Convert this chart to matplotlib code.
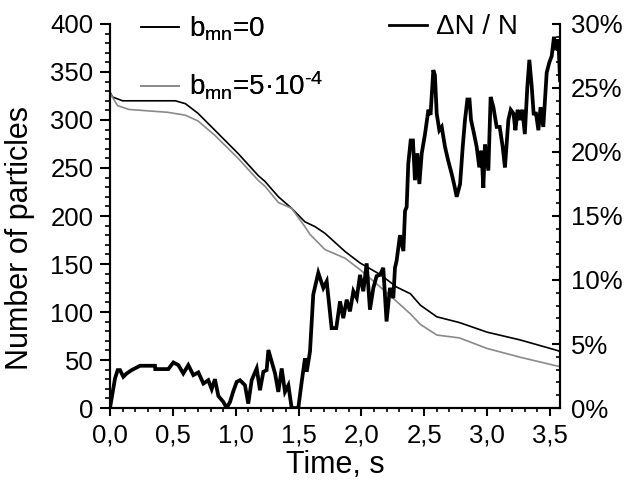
import matplotlib
matplotlib.use("Agg")
import matplotlib.pyplot as plt
from matplotlib.ticker import MultipleLocator

plt.rcParams['font.family'] = ['Liberation Sans', 'DejaVu Sans']
plt.rcParams['mathtext.fontset'] = 'custom'
plt.rcParams['mathtext.rm'] = 'Liberation Sans'
plt.rcParams['mathtext.it'] = 'Liberation Sans'

# --- data -------------------------------------------------------------
t_b0 = [0.0, 0.02, 0.1, 0.52, 0.6, 0.7, 0.86, 1.02, 1.18, 1.233, 1.34, 1.445,
        1.55, 1.63, 1.71, 1.87, 1.99, 2.15, 2.28, 2.39, 2.47, 2.6, 2.78, 3.0,
        3.26, 3.53, 3.58]
n_b0 = [329, 324, 320, 320, 317, 307, 286, 265, 242, 236, 220, 208,
        194, 189, 182, 163, 151, 139, 126, 119, 107, 95, 89, 79,
        71, 61, 59]

t_b5 = [0.0, 0.06, 0.15, 0.46, 0.6, 0.7, 0.835, 1.02, 1.18, 1.233, 1.34, 1.445,
        1.55, 1.59, 1.71, 1.80, 1.87, 1.99, 2.15, 2.28, 2.39, 2.47, 2.6, 2.78,
        3.0, 3.26, 3.58]
n_b5 = [328, 315, 311, 308, 305, 299, 284, 260, 237, 231, 214, 208,
        189, 181, 165, 160, 156, 144, 126, 111, 98, 87, 76, 73,
        62, 53, 43]

t_dn = [0.0, 0.04, 0.061, 0.08, 0.106, 0.133, 0.172, 0.239, 0.358, 0.36, 0.464,
        0.504, 0.544, 0.583, 0.623, 0.663, 0.703, 0.743, 0.782, 0.809, 0.835,
        0.862, 0.902, 0.928, 0.955, 0.981, 1.008, 1.034, 1.074, 1.1, 1.127,
        1.167, 1.193, 1.22, 1.246, 1.26, 1.286, 1.313, 1.339, 1.366, 1.392,
        1.419, 1.445, 1.498, 1.525, 1.551, 1.565, 1.591, 1.617, 1.657, 1.697,
        1.724, 1.763, 1.80, 1.83, 1.856, 1.883, 1.909, 1.936, 1.963, 1.989,
        2.015, 2.042, 2.068, 2.095, 2.121, 2.148, 2.174, 2.2, 2.227, 2.254,
        2.267, 2.28, 2.307, 2.334, 2.347, 2.36, 2.373, 2.392, 2.41, 2.426,
        2.445, 2.461, 2.48, 2.506, 2.533, 2.55, 2.572, 2.585, 2.599, 2.62,
        2.639, 2.665, 2.691, 2.718, 2.737, 2.758, 2.785, 2.806, 2.824, 2.843,
        2.86, 2.872, 2.89, 2.917, 2.938, 2.955, 2.97, 2.983, 3.01, 3.028, 3.05,
        3.076, 3.10, 3.124, 3.142, 3.169, 3.188, 3.21, 3.225, 3.243, 3.26,
        3.28, 3.30, 3.32, 3.336, 3.355, 3.37, 3.389, 3.408, 3.425, 3.447,
        3.474, 3.495, 3.514, 3.532, 3.548, 3.567, 3.58]
p_dn = [0.0, 2.31, 2.96, 2.96, 2.44, 2.70, 2.96, 3.30, 3.30, 3.04, 3.04,
        3.56, 3.35, 2.70, 3.35, 2.57, 2.78, 1.91, 2.17, 1.47, 2.25,
        0.94, 0.47, 0.0, 0.47, 1.31, 2.04, 2.17, 1.78, 0.34, 2.17,
        3.09, 1.39, 2.83, 2.96, 4.53, 3.62, 2.70, 1.26, 3.09, 1.26,
        1.78, 0.0, 0.0, 2.04, 3.88, 2.83, 4.4, 8.86, 10.56, 9.38,
        9.9, 6.24, 6.24, 8.33, 7.02, 8.46, 7.55, 9.12, 8.59, 10.4,
        9.12, 11.3, 7.68, 9.38, 10.3, 10.4, 10.95, 6.76, 9.38, 8.59,
        10.95, 11.5, 13.5, 12.26, 15.4, 15.7, 19.1, 20.9, 20.9, 17.8,
        19.9, 17.5, 19.9, 21.4, 23.3, 22.9, 26.4, 26.0, 23.0, 21.7,
        21.96, 20.4, 19.3, 18.3, 17.5, 16.5, 17.5, 20.4, 22.5, 24.1,
        24.1, 22.5, 21.7, 20.4, 18.8, 20.1, 17.2, 20.6, 18.55, 24.3, 23.5,
        21.96, 21.96, 20.4, 18.8, 22.5, 23.3, 23.0, 21.7, 23.3, 22.5,
        23.3, 21.4, 25.1, 27.2, 25.1, 23.0, 23.0, 21.7, 23.5, 21.96,
        26.2, 27.0, 27.5, 29.0, 27.96, 28.8, 25.6]

x_ticks = [0.0, 0.5, 1.0, 1.5, 2.0, 2.5, 3.0, 3.5]
y_ticks = [0, 50, 100, 150, 200, 250, 300, 350, 400]
p_ticks = [0, 5, 10, 15, 20, 25, 30]

label_b0 = r'b$_{\mathrm{mn}}$=0'
label_b5 = r'b$_{\mathrm{mn}}$=5·10$^{\text{-4}}$'
label_dn = 'ΔN / N'

# --- figure -----------------------------------------------------------
fig = plt.figure(figsize=(6.26, 4.8), dpi=100)
ax = fig.add_axes([0.1757, 0.15, 0.7189, 0.80])
ax2 = ax.twinx()

l0, = ax.plot(t_b0, n_b0, color='black', lw=1.2)
l5, = ax.plot(t_b5, n_b5, color='#8a8a8a', lw=1.2)
ld, = ax2.plot(t_dn, p_dn, color='black', lw=2.7, solid_joinstyle='miter')

ax.set_xlim(0, 3.58)
ax.set_ylim(0, 400)
ax2.set_ylim(0, 30)

ax.set_xticks(x_ticks)
ax.xaxis.set_minor_locator(MultipleLocator(0.1))
ax.set_xticklabels([f'{v:.1f}'.replace('.', ',') for v in x_ticks])
ax.set_yticks(y_ticks)
ax.yaxis.set_minor_locator(MultipleLocator(10))
ax2.set_yticks(p_ticks)
ax2.yaxis.set_minor_locator(MultipleLocator(1))
ax2.set_yticklabels([f'{v}%' for v in p_ticks])

for a in (ax, ax2):
    for s in a.spines.values():
        s.set_linewidth(1.5)
    a.spines['top'].set_visible(False)

ax.tick_params(axis='y', which='major', direction='out', length=7, width=1.5,
               labelsize=18.5, pad=5)
ax.tick_params(axis='y', which='minor', direction='out', length=3.5, width=1.2)
ax.tick_params(axis='x', which='major', direction='out', length=6, width=1.5,
               labelsize=18.5, pad=5)
ax.tick_params(axis='x', which='minor', direction='out', length=3, width=1.2)
ax2.tick_params(axis='y', which='major', direction='in', length=6, width=1.5,
                labelsize=18.5, pad=8)
ax2.tick_params(axis='y', which='minor', direction='in', length=3, width=1.2)

ax.set_xlabel('Time, s', fontsize=22, labelpad=2)
ax.set_ylabel('Number of particles', fontsize=22)
ax.yaxis.set_label_coords(-0.167, 0.444)

leg1 = ax.legend([l0, l5], [label_b0, label_b5], loc='upper left',
                 bbox_to_anchor=(0.07, 1.025), frameon=False, fontsize=20,
                 handlelength=1.35, handletextpad=0.35, labelspacing=0.98,
                 borderpad=0, borderaxespad=0)
ax.add_artist(leg1)
leg2 = ax2.legend([ld], [label_dn], loc='upper left',
                  bbox_to_anchor=(0.62, 1.025), frameon=False, fontsize=20,
                  handlelength=1.35, handletextpad=0.35,
                  borderpad=0, borderaxespad=0)
for h in leg2.legend_handles:
    h.set_linewidth(2.0)

fig.savefig('out.png', dpi=100)
